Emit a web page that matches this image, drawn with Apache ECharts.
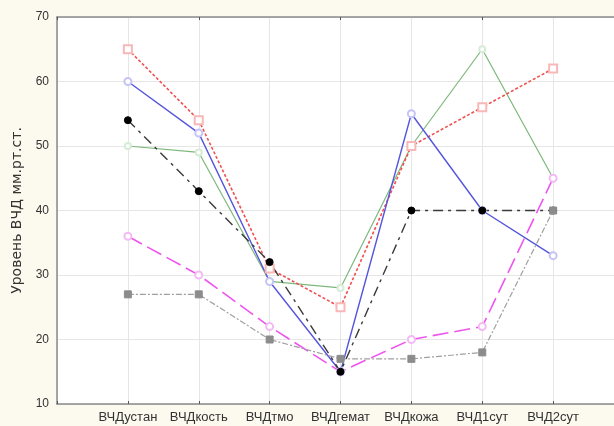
<!DOCTYPE html>
<html>
<head>
<meta charset="utf-8">
<script src="https://cdn.jsdelivr.net/npm/echarts@6/dist/echarts.min.js"></script>
<style>
html,body{margin:0;padding:0;background:#fcf9ee;}
#chart{width:614px;height:426px;}
</style>
</head>
<body>
<div id="chart"></div>
<script>
// Measurement points (stages)
var categories = ['ВЧДустан', 'ВЧДкость', 'ВЧДтмо', 'ВЧДгемат', 'ВЧДкожа', 'ВЧД1сут', 'ВЧД2сут'];

// Pressure values per case, mm Hg
var seriesRed     = [65, 54, 31, 25, 50, 56, 62];
var seriesBlue    = [60, 52, 29, 15, 55, 40, 33];
var seriesBlack   = [54, 43, 32, 15, 40, 40, 40];
var seriesGreen   = [50, 49, 29, 28, 50, 65, 45];
var seriesMagenta = [36, 30, 22, 15, 20, 22, 45];
var seriesGray    = [27, 27, 20, 17, 17, 18, 40];

var yTicks = [10, 20, 30, 40, 50, 60, 70];
var yTitle = 'Уровень ВЧД мм.рт.ст.';

// pad the category axis with an empty slot on each side
var axisCats = [''].concat(categories, ['']);
function pad(arr) { return [null].concat(arr, [null]); }

// for "empty" symbols the marker colour becomes the outline, the fill stays white
function lineSeries(name, values, color, lineType, width, symbol, symSize, markColor, z) {
  return {
    name: name,
    type: 'line',
    data: pad(values),
    symbol: symbol,
    symbolSize: symSize,
    showSymbol: true,
    connectNulls: false,
    lineStyle: { color: color, width: width, type: lineType },
    itemStyle: { color: markColor, borderColor: markColor, borderWidth: 1 },
    z: z
  };
}

var chart = echarts.init(document.getElementById('chart'), null, { renderer: 'canvas' });
chart.setOption({
  backgroundColor: '#fcf9ee',
  animation: false,
  grid: {
    left: 57, top: 17, right: -10, bottom: 22,
    containLabel: false, outerBoundsMode: 'none',
    backgroundColor: '#ffffff', show: true, borderWidth: 0
  },
  xAxis: [{
    type: 'category',
    data: axisCats,
    boundaryGap: false,
    axisLine: { show: true, lineStyle: { color: '#8a8a8a', width: 1.5 } },
    axisTick: { show: true, inside: true, length: 3, alignWithLabel: true, lineStyle: { color: '#555' } },
    axisLabel: { color: '#333', fontSize: 13, fontFamily: 'Liberation Sans, Arial', margin: 7, interval: 0 },
    splitLine: { show: true, lineStyle: { color: '#e6e6e6', width: 1 } }
  }, {
    type: 'category',
    position: 'top',
    data: axisCats,
    boundaryGap: false,
    axisLine: { show: true, lineStyle: { color: '#8a8a8a', width: 1.5 } },
    axisTick: { show: true, inside: true, length: 3, lineStyle: { color: '#555' } },
    axisLabel: { show: false },
    splitLine: { show: false }
  }],
  yAxis: {
    type: 'value',
    min: yTicks[0],
    max: yTicks[yTicks.length - 1],
    interval: 10,
    name: yTitle,
    nameLocation: 'middle',
    nameGap: 28,
    nameTextStyle: { color: '#333', fontSize: 14, fontFamily: 'DejaVu Sans' },
    axisLine: { show: true, lineStyle: { color: '#8a8a8a', width: 1.5 } },
    axisTick: { show: false },
    axisLabel: { color: '#333', fontSize: 12, fontFamily: 'Liberation Sans, Arial', margin: 8 },
    splitLine: { show: true, lineStyle: { color: '#e6e6e6', width: 1 } }
  },
  series: [
    lineSeries('green', seriesGreen, '#7cb87c', 'solid', 1.2, 'emptyCircle', 6, '#d6ecd6', 3),
    lineSeries('magenta', seriesMagenta, '#ee55ee', [16, 6], 1.6, 'emptyCircle', 7, '#f4baf4', 3),
    lineSeries('red', seriesRed, '#f05050', [3, 2], 1.6, 'emptyRect', 8, '#f8b8b8', 3),
    lineSeries('blue', seriesBlue, '#5555dd', 'solid', 1.4, 'emptyCircle', 7, '#c4c4f6', 3),
    lineSeries('black', seriesBlack, '#3a3a3a', [10, 5, 3, 5], 1.4, 'circle', 7, '#000000', 3),
    lineSeries('gray', seriesGray, '#a0a0a0', [6, 2, 2, 2], 1.2, 'rect', 7, '#8c8c8c', 4)
  ]
});
</script>
</body>
</html>
